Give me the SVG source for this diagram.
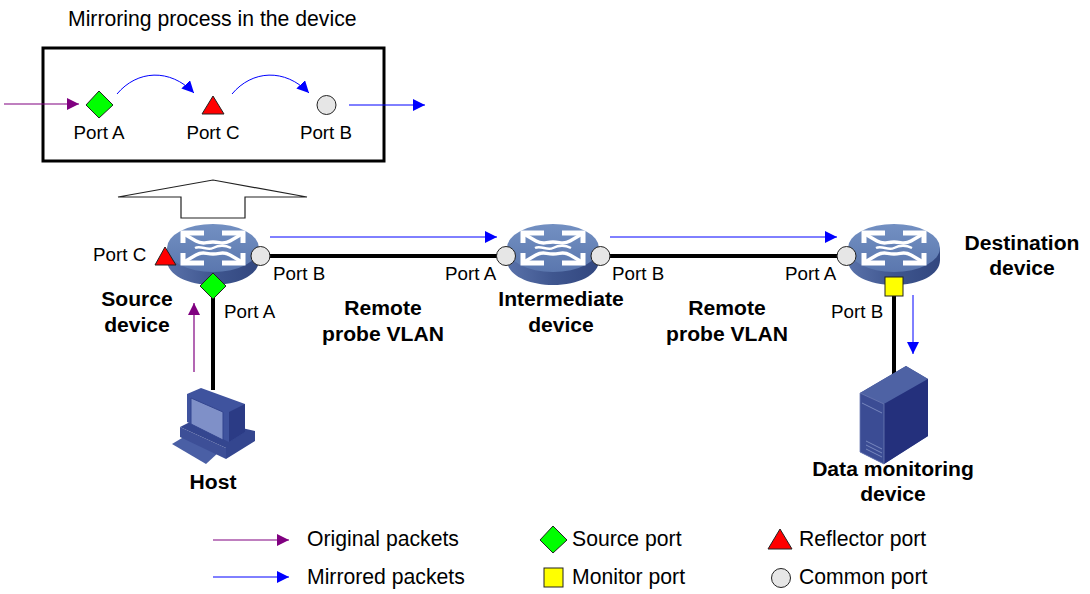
<svg xmlns="http://www.w3.org/2000/svg" width="1090" height="594" viewBox="0 0 1090 594">
<style>
text{font-family:"Liberation Sans",Arial,sans-serif;font-size:21.200px;fill:#000}
.b{font-weight:bold;text-anchor:middle;font-size:21.100px}
.p{font-size:18.800px}
.m{text-anchor:middle}
.link{stroke:#000;stroke-width:4;fill:none}
.blue{stroke:#0000ff;stroke-width:1;fill:none}
.pur{stroke:#800080;stroke-width:1.200;fill:none}
.src{fill:#00ff00;stroke:#222;stroke-width:1}
.ref{fill:#ff0000;stroke:#222;stroke-width:1}
.com{fill:#e6e6e6;stroke:#222;stroke-width:1}
.mon{fill:#ffff00;stroke:#222;stroke-width:1}
</style>
<defs>
<marker id="ab" markerUnits="userSpaceOnUse" markerWidth="13" markerHeight="13" refX="12" refY="6" orient="auto"><path d="M0 0L12 6L0 12Z" fill="#0000ff"/></marker>
<marker id="ap" markerUnits="userSpaceOnUse" markerWidth="13" markerHeight="13" refX="12" refY="6" orient="auto"><path d="M0 0L12 6L0 12Z" fill="#800080"/></marker>
<linearGradient id="side" x1="0" x2="1" y1="0" y2="0"><stop offset="0" stop-color="#5a72aa"/><stop offset="0.500" stop-color="#3f568f"/><stop offset="1" stop-color="#32477f"/></linearGradient>
<linearGradient id="top" x1="0" x2="0" y1="0" y2="1"><stop offset="0" stop-color="#7390c2"/><stop offset="1" stop-color="#5b77ae"/></linearGradient>
<g id="sw">
<path d="M-46 0V12C-46 27 -25 37 0 37S46 27 46 12V0Z" fill="url(#side)"/>
<ellipse cx="0" cy="0" rx="46" ry="24" fill="url(#top)"/>
<g fill="none" stroke="#fff" stroke-width="5">
<path d="M-9 -15H-30V-5M9 -15H30V-5M-9 15H-30V5M9 15H30V5"/>
<path d="M-29 -14L-17 -7C-10 -3 -8 -6 0 -6S10 -3 17 -7L29 -14" stroke-width="3.500"/>
<path d="M-29 14L-17 7C-10 3 -8 6 0 6S10 3 17 7L29 14" stroke-width="3.500"/>
<path d="M-18 0C-12 -3 -6 3 0 0S12 -3 18 0" stroke-width="2.500"/>
</g>
</g>
</defs>

<g id="mirror-box">
<rect x="43" y="48" width="341" height="113" fill="#fff" stroke="#000" stroke-width="3"/>
<text x="68" y="26">Mirroring process in the device</text>
<path d="M99 91L113 105L99 118L86 105Z" class="src"/>
<path d="M213 96L224 114H202Z" class="ref"/>
<circle cx="326.500" cy="105" r="9.500" class="com"/>
<text class="m p" x="99" y="139">Port A</text>
<text class="m p" x="213" y="139">Port C</text>
<text class="m p" x="326" y="139">Port B</text>
</g>

<g id="big-arrow"><path d="M118 197L213 180L307 197H245V218H181V197Z" fill="#fff" stroke="#222" stroke-width="1.200"/></g>

<g id="connectors">
<path class="link" d="M213 285V390M260 256H505M600 256H846M894 290V375"/>
<path class="blue" marker-end="url(#ab)" d="M270 237H497"/>
<path class="blue" marker-end="url(#ab)" d="M610 237H837"/>
<path class="blue" marker-end="url(#ab)" d="M913 295V354"/>
<path class="pur" marker-end="url(#ap)" d="M194 372V303"/>
<path class="pur" marker-end="url(#ap)" d="M4 104H79"/>
<path class="blue" marker-end="url(#ab)" d="M349 105H425"/>
<path class="blue" marker-end="url(#ab)" d="M117 94C137 70 170 68 194 93"/>
<path class="blue" marker-end="url(#ab)" d="M232 94C252 70 285 68 309 93"/>
<path class="pur" marker-end="url(#ap)" d="M213 540H289"/>
<path class="blue" marker-end="url(#ab)" d="M213 577H289"/>
</g>

<g id="source-device">
<use href="#sw" x="213" y="248"/>
<path d="M165 247L176 265H155Z" class="ref"/>
<circle cx="260.500" cy="256" r="9.500" class="com"/>
<path d="M213 273L226 286L213 299L200 286Z" class="src"/>
<text class="p" x="93" y="261">Port C</text>
<text class="p" x="273" y="280">Port B</text>
<text class="p" x="224" y="318">Port A</text>
<text class="b" x="137" y="306">Source</text>
<text class="b" x="137" y="332">device</text>
</g>

<g id="intermediate-device">
<use href="#sw" x="553" y="248"/>
<circle cx="506" cy="256" r="9.500" class="com"/>
<circle cx="600.500" cy="256" r="9.500" class="com"/>
<text class="p" x="445" y="280">Port A</text>
<text class="p" x="612" y="280">Port B</text>
<text class="b" x="561" y="306">Intermediate</text>
<text class="b" x="561" y="332">device</text>
</g>

<g id="destination-device">
<use href="#sw" x="894" y="248"/>
<circle cx="846.500" cy="256" r="9.500" class="com"/>
<rect x="885" y="277" width="18" height="19" class="mon"/>
<text class="p" x="785" y="280">Port A</text>
<text class="p" x="831" y="318">Port B</text>
<text class="b" x="1022" y="250">Destination</text>
<text class="b" x="1022" y="275">device</text>
</g>

<g id="labels">
<text class="b" x="383" y="315">Remote</text>
<text class="b" x="383" y="341">probe VLAN</text>
<text class="b" x="727" y="315">Remote</text>
<text class="b" x="727" y="341">probe VLAN</text>
</g>

<g id="host">
<path d="M172 444L187 435L219 452L206 464Z" fill="#4a5fa5"/>
<path d="M180 427L226 448V459L180 437Z" fill="#3d4f97"/>
<path d="M180 427L198 418L255 431V441L226 459V448Z" fill="#34468f"/>
<path d="M187 394L201 388L245 404V432L229 442L187 422Z" fill="#3f539e"/>
<path d="M229 412L245 404V432L229 442Z" fill="#2b3b85"/>
<path d="M191 398L223 412V440L191 424Z" fill="#7f90c8" stroke="#33458f"/>
<text class="b" x="213" y="489">Host</text>
</g>

<g id="server">
<path d="M860 393L906 366L928 379V436L884 464L860 452Z" fill="#3f5096"/>
<path d="M860 393L906 366L928 379L884 404Z" fill="#4e62a4"/>
<path d="M884 404L928 379V436L884 464Z" fill="#24307c"/>
<path d="M860 393L884 404V464L860 452Z" fill="#3b4c94" stroke="#6c7bb4" stroke-width="0.800"/>
<path d="M862 403L882 413M866 441L882 449M866 445L882 453M866 449L882 457" stroke="#7787be" fill="none"/>
<text class="b" x="893" y="476">Data monitoring</text>
<text class="b" x="893" y="501">device</text>
</g>

<g id="legend">
<text x="307" y="546">Original packets</text>
<text x="307" y="584">Mirrored packets</text>
<path d="M553 526L567 540L553 553L540 540Z" class="src"/>
<text x="572" y="546">Source port</text>
<rect x="544" y="568" width="19" height="19" class="mon"/>
<text x="572" y="584">Monitor port</text>
<path d="M780 529L792 549H768Z" class="ref"/>
<text x="799" y="546">Reflector port</text>
<circle cx="781" cy="578" r="9.500" class="com"/>
<text x="799" y="584">Common port</text>
</g>
</svg>
